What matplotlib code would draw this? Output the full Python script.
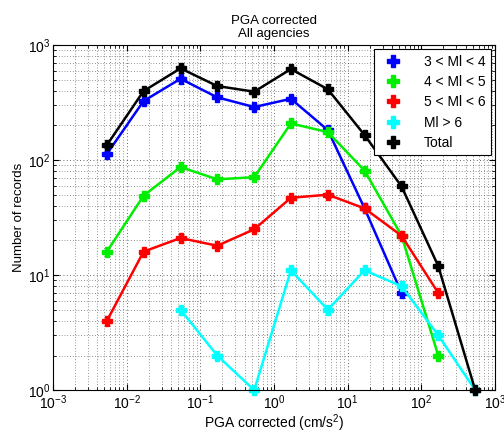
import numpy as np
import matplotlib
matplotlib.use("Agg")
import matplotlib.pyplot as plt
from matplotlib.lines import Line2D

plt.rcParams['font.family'] = ['Liberation Sans', 'DejaVu Sans']
plt.rcParams['mathtext.fontset'] = 'custom'
plt.rcParams['mathtext.rm'] = 'Liberation Sans'
plt.rcParams['mathtext.it'] = 'Liberation Sans'

# PGA bin centres (cm/s^2)
pga = [0.0054, 0.017, 0.054, 0.17, 0.54, 1.7, 5.4, 17, 54, 170, 540]

ml34 = [113, 326, 509, 351, 289, 341, 182, 38, 7]
ml45 = [16, 49, 87, 68, 71, 208, 175, 81, 22, 2]
ml56 = [4, 16, 21, 18, 25, 47, 50, 38, 22, 7]
ml6 = [5, 2, 1, 11, 5, 11, 8, 3, 1]      # starts at the 3rd bin
total = [135, 398, 627, 440, 393, 618, 412, 165, 59, 12, 1]

labels = ["3 < Ml < 4", "4 < Ml < 5", "5 < Ml < 6", "Ml > 6", "Total"]
colors = ["#0000ff", "#00ee00", "#ff0000", "#00ffff", "#000000"]

series = [
    (pga[:len(ml34)], ml34),
    (pga[:len(ml45)], ml45),
    (pga[:len(ml56)], ml56),
    (pga[2:2 + len(ml6)], ml6),
    (pga, total),
]

fig = plt.figure(figsize=(5.04, 4.33), dpi=100)
ax = fig.add_axes([0.105, 0.099, 0.877, 0.797])

for (x, y), c in zip(series, colors):
    ax.plot(x, y, color=c, lw=1.8, marker='P', ms=7, mec=c, mfc=c, clip_on=False)

ax.set_xscale('log')
ax.set_yscale('log')
ax.set_xlim(1e-3, 1e3)
ax.set_ylim(1, 1e3)
ax.set_xticks([1e-3, 1e-2, 1e-1, 1e0, 1e1, 1e2, 1e3])
ax.set_yticks([1e0, 1e1, 1e2, 1e3])

ax.grid(True, which='major', ls=(0, (1, 3)), color='#333333', lw=0.6)
ax.grid(True, which='minor', ls=(0, (1, 3)), color='#333333', lw=0.5)
ax.tick_params(which='both', direction='in', top=True, right=True, labelsize=10)
ax.tick_params(which='major', length=4, pad=2)
ax.tick_params(which='minor', length=2)
for s in ax.spines.values():
    s.set_linewidth(0.8)

ax.set_title("PGA corrected\nAll agencies", fontsize=9.5, pad=6, linespacing=1.1)
ax.set_xlabel("PGA corrected (cm/s$^2$)", fontsize=10, labelpad=1)
ax.set_ylabel("Number of records", fontsize=9.5, labelpad=2)

handles = [Line2D([], [], ls='none', marker='P', ms=8, color=c) for c in colors]
leg = ax.legend(handles, labels, loc='upper right', fontsize=10, fancybox=False,
                framealpha=1, edgecolor='k', borderaxespad=0.3, handletextpad=1.2,
                labelspacing=0.45, borderpad=0.4)
leg.get_frame().set_linewidth(0.8)

fig.savefig("out.png", dpi=100)
